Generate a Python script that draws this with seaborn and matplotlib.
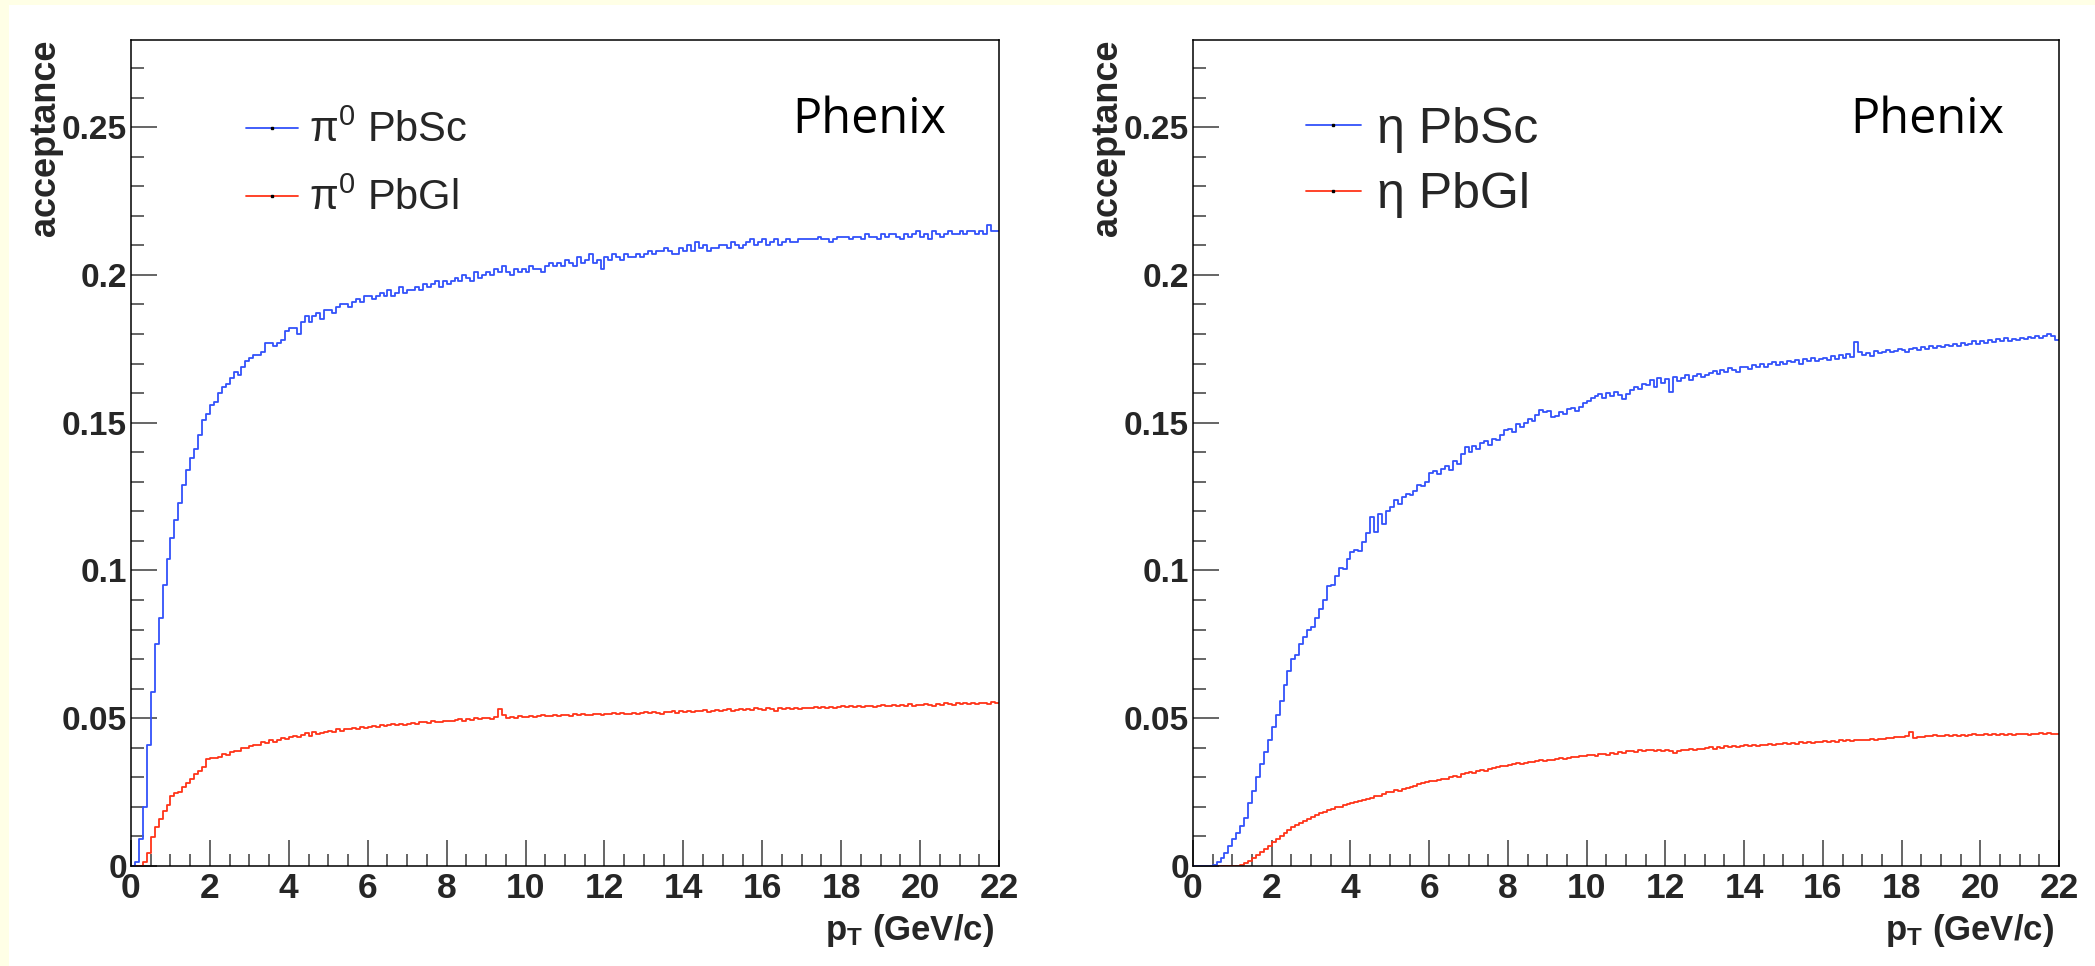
import numpy as np
import pandas as pd
import matplotlib
matplotlib.use("Agg")
import matplotlib.pyplot as plt
from matplotlib.lines import Line2D
from matplotlib.patches import Rectangle
import seaborn as sns

# ---------------- data (acceptance per 0.1 GeV/c bin, 0-22 GeV/c) ----------------
pt_min, pt_max, bin_width = 0.0, 22.0, 0.1

pi0_pbsc = [
    0.000, 0.0015, 0.009, 0.020, 0.041, 0.059, 0.075, 0.084, 0.095, 0.104,
    0.111, 0.117, 0.123, 0.129, 0.134, 0.138, 0.141, 0.146, 0.151, 0.153,
    0.156, 0.157, 0.160, 0.162, 0.163, 0.165, 0.167, 0.166, 0.169, 0.171,
    0.172, 0.173, 0.173, 0.174, 0.177, 0.177, 0.176, 0.177, 0.178, 0.181,
    0.182, 0.182, 0.180, 0.184, 0.186, 0.184, 0.186, 0.187, 0.185, 0.188,
    0.188, 0.187, 0.189, 0.190, 0.190, 0.189, 0.191, 0.192, 0.191, 0.193,
    0.193, 0.192, 0.193, 0.194, 0.193, 0.195, 0.193, 0.194, 0.196, 0.194,
    0.195, 0.195, 0.196, 0.195, 0.197, 0.196, 0.197, 0.198, 0.196, 0.198,
    0.197, 0.198, 0.199, 0.198, 0.200, 0.199, 0.198, 0.201, 0.199, 0.200,
    0.201, 0.200, 0.202, 0.201, 0.203, 0.201, 0.200, 0.202, 0.201, 0.202,
    0.201, 0.203, 0.202, 0.202, 0.201, 0.203, 0.204, 0.203, 0.204, 0.203,
    0.205, 0.204, 0.203, 0.206, 0.204, 0.205, 0.207, 0.204, 0.205, 0.202,
    0.206, 0.205, 0.207, 0.206, 0.205, 0.207, 0.206, 0.206, 0.207, 0.206,
    0.207, 0.208, 0.207, 0.208, 0.208, 0.209, 0.208, 0.207, 0.207, 0.209,
    0.208, 0.210, 0.208, 0.211, 0.209, 0.210, 0.208, 0.209, 0.209, 0.210,
    0.210, 0.209, 0.211, 0.210, 0.209, 0.210, 0.211, 0.212, 0.210, 0.211,
    0.212, 0.210, 0.211, 0.212, 0.210, 0.211, 0.212, 0.211, 0.211, 0.212,
    0.212, 0.212, 0.212, 0.212, 0.213, 0.212, 0.212, 0.211, 0.212, 0.213,
    0.213, 0.213, 0.212, 0.213, 0.213, 0.212, 0.214, 0.213, 0.213, 0.212,
    0.214, 0.213, 0.214, 0.214, 0.213, 0.212, 0.214, 0.213, 0.214, 0.215,
    0.213, 0.214, 0.212, 0.215, 0.214, 0.213, 0.214, 0.215, 0.214, 0.214,
    0.215, 0.214, 0.215, 0.215, 0.214, 0.215, 0.214, 0.217, 0.215, 0.215,
]

pi0_pbgl = [
    0.000, 0.000, 0.000, 0.0015, 0.0043, 0.0097, 0.0133, 0.0158, 0.0187, 0.0206,
    0.0237, 0.0246, 0.0252, 0.0266, 0.0280, 0.0295, 0.0310, 0.0322, 0.0335, 0.0362,
    0.0364, 0.0366, 0.0370, 0.0378, 0.0376, 0.0385, 0.0390, 0.0388, 0.0398, 0.0400,
    0.0405, 0.0408, 0.0410, 0.0418, 0.0415, 0.0425, 0.0420, 0.0428, 0.0432, 0.0430,
    0.0435, 0.0440, 0.0436, 0.0442, 0.0450, 0.0440, 0.0452, 0.0446, 0.0450, 0.0454,
    0.0458, 0.0455, 0.0462, 0.0458, 0.0465, 0.0462, 0.0468, 0.0465, 0.0470, 0.0468,
    0.0472, 0.0475, 0.0470, 0.0476, 0.0474, 0.0478, 0.0480, 0.0476, 0.0482, 0.0478,
    0.0482, 0.0485, 0.0480, 0.0486, 0.0488, 0.0484, 0.0490, 0.0488, 0.0486, 0.0490,
    0.0492, 0.0490, 0.0494, 0.0496, 0.0490, 0.0498, 0.0495, 0.0500, 0.0497, 0.0502,
    0.0500, 0.0498, 0.0503, 0.0530, 0.0512, 0.0502, 0.0505, 0.0500, 0.0506, 0.0503,
    0.0505, 0.0507, 0.0503, 0.0508, 0.0510, 0.0506, 0.0508, 0.0512, 0.0507, 0.0510,
    0.0512, 0.0509, 0.0513, 0.0510, 0.0515, 0.0512, 0.0510, 0.0514, 0.0516, 0.0512,
    0.0515, 0.0513, 0.0517, 0.0514, 0.0518, 0.0515, 0.0513, 0.0519, 0.0516, 0.0518,
    0.0520, 0.0517, 0.0522, 0.0519, 0.0516, 0.0522, 0.0520, 0.0523, 0.0518, 0.0524,
    0.0521, 0.0525, 0.0520, 0.0526, 0.0523, 0.0527, 0.0522, 0.0525, 0.0528, 0.0524,
    0.0527, 0.0530, 0.0526, 0.0529, 0.0532, 0.0527, 0.0531, 0.0528, 0.0533, 0.0530,
    0.0528, 0.0534, 0.0530, 0.0526, 0.0533, 0.0530, 0.0535, 0.0531, 0.0534, 0.0532,
    0.0536, 0.0533, 0.0535, 0.0538, 0.0534, 0.0537, 0.0535, 0.0539, 0.0536, 0.0538,
    0.0540, 0.0537, 0.0541, 0.0538, 0.0542, 0.0539, 0.0543, 0.0540, 0.0538, 0.0542,
    0.0544, 0.0540, 0.0543, 0.0546, 0.0541, 0.0545, 0.0543, 0.0547, 0.0542, 0.0546,
    0.0544, 0.0548, 0.0545, 0.0543, 0.0549, 0.0546, 0.0550, 0.0547, 0.0545, 0.0550,
    0.0548, 0.0551, 0.0547, 0.0552, 0.0549, 0.0553, 0.0550, 0.0548, 0.0555, 0.0551,
]

eta_pbsc = [
    0.0, 0.0, 0.0, 0.0, 0.0, 0.0003, 0.0015, 0.0026, 0.0043, 0.0068,
    0.0090, 0.0113, 0.0135, 0.0163, 0.0214, 0.0255, 0.0302, 0.0344, 0.0387, 0.0425,
    0.0470, 0.0510, 0.0560, 0.0614, 0.0660, 0.0700, 0.0715, 0.0750, 0.0775, 0.0800,
    0.0810, 0.0840, 0.0870, 0.0900, 0.0948, 0.0950, 0.0980, 0.1010, 0.1005, 0.1040,
    0.1063, 0.1070, 0.1065, 0.1095, 0.1126, 0.1180, 0.1130, 0.1190, 0.1157, 0.1200,
    0.1215, 0.1240, 0.1225, 0.1250, 0.1260, 0.1255, 0.1270, 0.1290, 0.1285, 0.1300,
    0.1330, 0.1335, 0.1325, 0.1345, 0.1355, 0.1340, 0.1370, 0.1360, 0.1395, 0.1418,
    0.1400, 0.1420, 0.1410, 0.1430, 0.1439, 0.1425, 0.1445, 0.1440, 0.1460, 0.1475,
    0.1480, 0.1470, 0.1495, 0.1485, 0.1500, 0.1512, 0.1505, 0.1525, 0.1543, 0.1535,
    0.1540, 0.1520, 0.1523, 0.1535, 0.1530, 0.1545, 0.1550, 0.1540, 0.1554, 0.1565,
    0.1575, 0.1585, 0.1590, 0.1596, 0.1585, 0.1600, 0.1590, 0.1605, 0.1595, 0.1580,
    0.1596, 0.1610, 0.1620, 0.1615, 0.1630, 0.1627, 0.1645, 0.1620, 0.1650, 0.1635,
    0.1648, 0.1605, 0.1655, 0.1640, 0.1650, 0.1660, 0.1645, 0.1658, 0.1665, 0.1655,
    0.1662, 0.1669, 0.1675, 0.1665, 0.1680, 0.1670, 0.1685, 0.1678, 0.1672, 0.1688,
    0.1690, 0.1682, 0.1695, 0.1688, 0.1700, 0.1690, 0.1698, 0.1705, 0.1695, 0.1704,
    0.1700, 0.1710, 0.1705, 0.1712, 0.1700, 0.1715, 0.1708, 0.1718, 0.1710, 0.1717,
    0.1720, 0.1712, 0.1725, 0.1715, 0.1728, 0.1720, 0.1731, 0.1722, 0.1773, 0.1740,
    0.1728, 0.1735, 0.1725, 0.1742, 0.1735, 0.1740, 0.1745, 0.1738, 0.1742, 0.1748,
    0.1745, 0.1740, 0.1750, 0.1752, 0.1745, 0.1755, 0.1750, 0.1758, 0.1752, 0.1760,
    0.1755, 0.1763, 0.1758, 0.1765, 0.1760, 0.1770, 0.1762, 0.1768, 0.1775, 0.1765,
    0.1777, 0.1770, 0.1780, 0.1772, 0.1782, 0.1775, 0.1785, 0.1778, 0.1784, 0.1780,
    0.1786, 0.1782, 0.1790, 0.1785, 0.1795, 0.1788, 0.1794, 0.1800, 0.1792, 0.1780,
]

eta_pbgl = [
    0.0, 0.0, 0.0, 0.0, 0.0, 0.0, 0.0, 0.0, 0.0, 0.0,
    0.0, 0.0, 0.0004, 0.0010, 0.0018, 0.0027, 0.0036, 0.0046, 0.0057, 0.0068,
    0.0080, 0.0092, 0.0102, 0.0112, 0.0122, 0.0132, 0.0140, 0.0147, 0.0153, 0.0160,
    0.0167, 0.0172, 0.0178, 0.0183, 0.0188, 0.0193, 0.0198, 0.0201, 0.0206, 0.0209,
    0.0212, 0.0216, 0.0219, 0.0224, 0.0227, 0.0230, 0.0236, 0.0238, 0.0244, 0.0250,
    0.0252, 0.0256, 0.0254, 0.0262, 0.0265, 0.0268, 0.0272, 0.0276, 0.0280, 0.0284,
    0.0288, 0.0286, 0.0292, 0.0295, 0.0293, 0.0300, 0.0304, 0.0302, 0.0310, 0.0314,
    0.0317, 0.0315, 0.0320, 0.0325, 0.0322, 0.0328, 0.0332, 0.0335, 0.0338, 0.0340,
    0.0343, 0.0345, 0.0348, 0.0346, 0.0350, 0.0353, 0.0351, 0.0355, 0.0358, 0.0356,
    0.0360, 0.0358, 0.0362, 0.0365, 0.0363, 0.0367, 0.0370, 0.0368, 0.0372, 0.0371,
    0.0374, 0.0376, 0.0373, 0.0378, 0.0380, 0.0377, 0.0382, 0.0380, 0.0385, 0.0383,
    0.0388, 0.0390, 0.0387, 0.0392, 0.0389, 0.0393, 0.0391, 0.0388, 0.0394, 0.0390,
    0.0392, 0.0388, 0.0382, 0.0390, 0.0394, 0.0392, 0.0396, 0.0393, 0.0397, 0.0395,
    0.0398, 0.0401, 0.0396, 0.0403, 0.0400, 0.0405, 0.0402, 0.0406, 0.0404, 0.0407,
    0.0408, 0.0405, 0.0410, 0.0407, 0.0411, 0.0409, 0.0413, 0.0410, 0.0414, 0.0412,
    0.0415, 0.0413, 0.0417, 0.0414, 0.0418, 0.0416, 0.0420, 0.0417, 0.0421, 0.0419,
    0.0422, 0.0419, 0.0424, 0.0421, 0.0425, 0.0422, 0.0426, 0.0424, 0.0427, 0.0425,
    0.0428, 0.0426, 0.0430, 0.0427, 0.0431, 0.0429, 0.0432, 0.0434, 0.0436, 0.0438,
    0.0438, 0.0440, 0.0455, 0.0432, 0.0436, 0.0438, 0.0441, 0.0439, 0.0442, 0.0440,
    0.0440, 0.0442, 0.0439, 0.0443, 0.0441, 0.0444, 0.0440, 0.0443, 0.0445, 0.0442,
    0.0443, 0.0446, 0.0442, 0.0445, 0.0443, 0.0447, 0.0444, 0.0446, 0.0443, 0.0447,
    0.0445, 0.0448, 0.0444, 0.0447, 0.0445, 0.0449, 0.0446, 0.0450, 0.0446, 0.0447,
]

x_ticks = [0, 2, 4, 6, 8, 10, 12, 14, 16, 18, 20, 22]
x_tick_labels = ["0", "2", "4", "6", "8", "10", "12", "14", "16", "18", "20", "22"]
y_ticks = [0, 0.05, 0.1, 0.15, 0.2, 0.25]
y_tick_labels = ["0", "0.05", "0.1", "0.15", "0.2", "0.25"]

left_labels = ["π$^{0}$ PbSc", "π$^{0}$ PbGl"]
right_labels = ["η PbSc", "η PbGl"]

# ---------------- style ----------------
sns.set_theme(style="white")
plt.rcParams["font.family"] = ["Liberation Sans", "DejaVu Sans"]
plt.rcParams["mathtext.fontset"] = "custom"
plt.rcParams["mathtext.rm"] = "Liberation Sans"
plt.rcParams["mathtext.it"] = "Liberation Sans:italic"
plt.rcParams["mathtext.bf"] = "Liberation Sans:bold"

BLUE = "#3352fa"
RED = "#ff3418"
TICK_COLOR = "#3c3c3c"

n_bins = len(pi0_pbsc)
centers = pt_min + bin_width * (np.arange(n_bins) + 0.5)

fig = plt.figure(figsize=(20.95, 9.66), dpi=100, facecolor="#FFFFE6")
fig.patches.append(Rectangle((9 / 2095, 0), 1.0, 961 / 966,
                             transform=fig.transFigure, facecolor="white",
                             edgecolor="none", zorder=-10))

ax_l = fig.add_axes([131 / 2095, 100 / 966, 868 / 2095, 826 / 966])
ax_r = fig.add_axes([1193 / 2095, 100 / 966, 866 / 2095, 826 / 966])


def draw_panel(ax, sc, gl, labels, leg_fs, leg_anchor, hlen, hpad, lspace, phenix_x):
    df = pd.DataFrame({
        "pt": np.concatenate([centers, centers]),
        "acc": np.concatenate([np.asarray(sc), np.asarray(gl)]),
        "det": [labels[0]] * len(sc) + [labels[1]] * len(gl),
    })
    sns.histplot(data=df, x="pt", weights="acc", hue="det", bins=n_bins,
                 binrange=(pt_min, pt_max), element="step", fill=False,
                 palette=[BLUE, RED], linewidth=1.3, legend=False, ax=ax)
    ax.set_xlim(pt_min, pt_max)
    ax.set_ylim(0, 0.2795)
    ax.set_facecolor("white")

    ax.set_xticks(x_ticks, labels=x_tick_labels, fontsize=25.5, fontweight="bold")
    ax.set_xticks(np.arange(0, 22.01, 0.5), minor=True)
    ax.set_yticks(y_ticks, labels=y_tick_labels, fontsize=24, fontweight="bold")
    ax.set_yticks(np.arange(0, 0.2795, 0.01), minor=True)
    ax.tick_params(axis="both", which="both", direction="in", top=False,
                   right=False, left=True, bottom=True, color=TICK_COLOR, width=1.1)
    ax.tick_params(axis="both", which="major", length=18.5)
    ax.tick_params(axis="both", which="minor", length=9)
    ax.tick_params(axis="x", which="major", pad=4)
    ax.tick_params(axis="y", which="major", pad=3)
    for s in ax.spines.values():
        s.set_visible(True)
        s.set_color("black")
        s.set_linewidth(1.1)

    ax.set_ylabel("acceptance", fontsize=26, fontweight="bold", loc="top")
    ax.yaxis.set_label_coords(-0.078, 1.0)
    ax.set_xlabel(r"$\mathbf{p}_{\mathbf{T}}$ (GeV/c)", fontsize=25,
                  fontweight="bold", loc="right")
    ax.xaxis.set_label_coords(0.994, -0.056)

    handles = [Line2D([], [], color=c, lw=1.3, marker="s", markersize=1.6,
                      markerfacecolor="black", markeredgecolor="black")
               for c in (BLUE, RED)]
    ax.legend(handles=handles, labels=labels, loc="upper left",
              bbox_to_anchor=leg_anchor, frameon=False, fontsize=leg_fs,
              handlelength=hlen, handletextpad=hpad, labelspacing=lspace,
              borderaxespad=0, borderpad=0, numpoints=1)

    ax.text(phenix_x, 0.887, "Phenix", transform=ax.transAxes, fontsize=35,
            family=["Open Sans", "DejaVu Sans"], ha="left", va="baseline",
            color="black")


draw_panel(ax_l, pi0_pbsc, pi0_pbgl, left_labels, 30, (0.132, 0.914),
           1.27, 0.26, 0.66, 0.762)
draw_panel(ax_r, eta_pbsc, eta_pbgl, right_labels, 36, (0.130, 0.919),
           1.10, 0.33, 0.39, 0.759)

fig.savefig("out.png", dpi=100, facecolor=fig.get_facecolor())
